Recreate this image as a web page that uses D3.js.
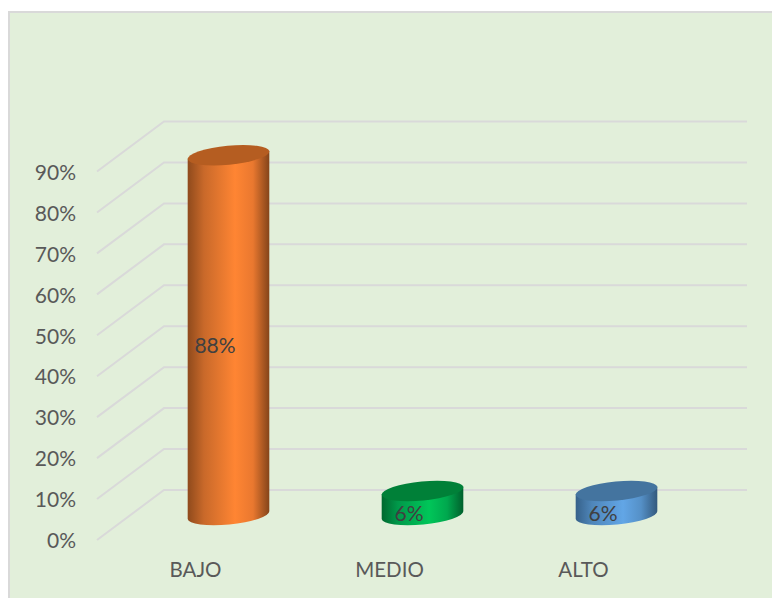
<!DOCTYPE html>
<html>
<head>
<meta charset="utf-8">
<script src="https://cdn.jsdelivr.net/npm/d3@7"></script>
<style>
  html, body { margin: 0; padding: 0; background: #fff; overflow: hidden; }
  text { font-family: Lato, "Open Sans", sans-serif; }
</style>
</head>
<body>
<div id="chart"></div>
<script>
const categories = ['BAJO', 'MEDIO', 'ALTO']
const values = [0.88, 0.06, 0.06]
const labels = ['88%', '6%', '6%']
const yTicks = [0, 0.1, 0.2, 0.3, 0.4, 0.5, 0.6, 0.7, 0.8, 0.9]
const sideColors = [
  ['#8f4a1c', '#c9692a', '#ff8533', '#e9782f', '#84441a'],
  ['#00682f', '#00994a', '#00c659', '#00a84e', '#00602c'],
  ['#36618a', '#4f86ba', '#62a6e6', '#5590c7', '#33597d']
]
const capColors = ['#b55d21', '#008038', '#44749f']

const width = 772
const height = 598
// 3D floor: how far the back wall is shifted from the front edge
const depthX = 67
const depthY = -50
const rx = 41
const ry = 9.5
const tilt = -5.5

const svg = d3.select('#chart').append('svg').attr('width', width).attr('height', height)
  .style('display', 'block')

// panel background, border only on left and top
svg.append('rect').attr('x', 9).attr('y', 12).attr('width', width - 9).attr('height', height - 12).attr('fill', '#e2efda')
svg.append('path').attr('d', 'M9,' + height + 'V12H' + width).attr('fill', 'none').attr('stroke', '#d9d9d9').attr('stroke-width', 2)

const ylinear = d3.scaleLinear().domain([0, 0.9]).range([540, 171.5])
const xpoint = d3.scalePoint().domain(categories).range([195, 583])

// 背景轴线: side wall + back wall
const grid = svg.append('g')
grid.selectAll('path').data(yTicks).enter().append('path')
  .attr('d', d => 'M97,' + ylinear(d) + 'L' + (97 + depthX) + ',' + (ylinear(d) + depthY) + 'H747')
  .attr('fill', 'none')
  .attr('stroke', '#d9d9d9')
  .attr('stroke-width', 2)

// axes
const yAxis = d3.axisLeft(ylinear).tickValues(yTicks).tickFormat(d3.format('.0%')).tickSize(0).tickPadding(0)
svg.append('g').attr('transform', 'translate(76,1)').call(yAxis)
  .call(g => g.select('.domain').remove())
  .selectAll('text').attr('font-size', 21).attr('fill', '#595959')
  .style('font-family', 'Lato, "Open Sans", sans-serif')

const xAxis = d3.axisBottom(xpoint).tickSize(0).tickPadding(0)
svg.append('g').attr('transform', 'translate(0,562)').call(xAxis)
  .call(g => g.select('.domain').remove())
  .selectAll('text').attr('font-size', 20.5).attr('fill', '#595959')
  .style('font-family', 'Lato, "Open Sans", sans-serif')

// side gradients
const defs = svg.append('defs')
const stops = [0, 0.2, 0.58, 0.8, 1]
sideColors.forEach((colors, i) => {
  const grad = defs.append('linearGradient').attr('id', 'side' + i)
  colors.forEach((c, j) => {
    grad.append('stop').attr('offset', stops[j]).attr('stop-color', c)
  })
})

// cylinders stand half way into the floor
const rad = tilt * Math.PI / 180
const ex = rx * Math.cos(rad)
const ey = rx * Math.sin(rad)
categories.forEach((cat, i) => {
  const cx = xpoint(cat) + depthX / 2
  const yBase = ylinear(0) + depthY / 2
  const yTop = ylinear(values[i]) + depthY / 2
  const arc = 'A' + rx + ',' + ry + ' ' + tilt + ' 0 '
  const g = svg.append('g')
  g.append('path')
    .attr('d', 'M' + (cx - ex) + ',' + (yTop - ey) +
      'L' + (cx - ex) + ',' + (yBase - ey) +
      arc + '0 ' + (cx + ex) + ',' + (yBase + ey) +
      'L' + (cx + ex) + ',' + (yTop + ey) + 'Z')
    .attr('fill', 'url(#side' + i + ')')
  g.append('ellipse')
    .attr('rx', rx)
    .attr('ry', ry)
    .attr('transform', 'translate(' + cx + ',' + (yTop + 0.5) + ') rotate(' + tilt + ')')
    .attr('fill', capColors[i])
  g.append('text')
    .attr('x', cx - 13.5)
    .attr('y', (yBase + yTop) / 2 + 10.5)
    .attr('dy', '0.35em')
    .attr('text-anchor', 'middle')
    .attr('font-size', 21)
    .attr('fill', '#404040')
    .text(labels[i])
})
</script>
</body>
</html>
